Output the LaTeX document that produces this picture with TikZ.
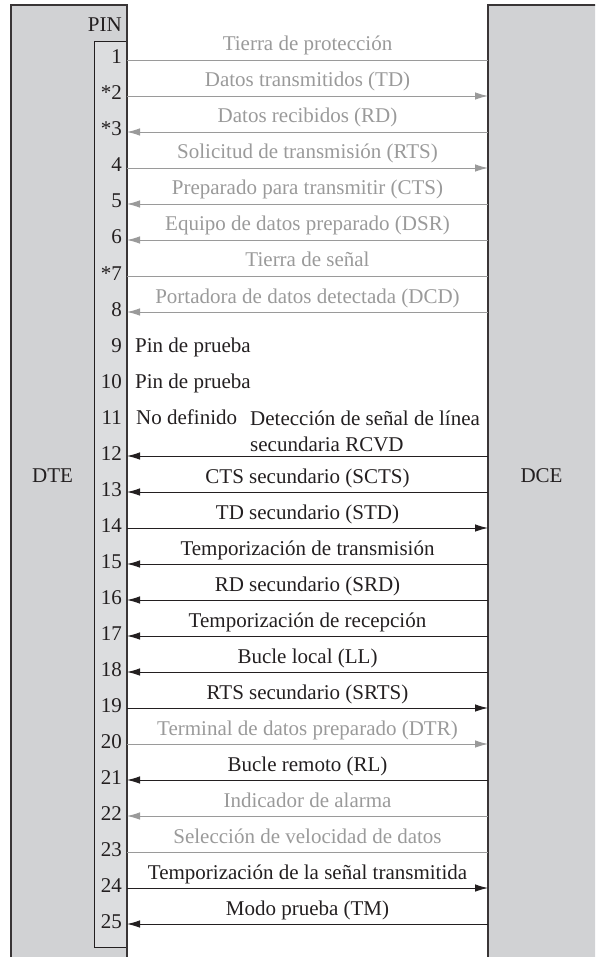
\documentclass[tikz,border=0pt]{standalone}
\usepackage{fontspec}
\setmainfont{Liberation Serif}
\usetikzlibrary{arrows.meta}
\definecolor{boxgray}{HTML}{D1D2D4}
\definecolor{pingray}{HTML}{DCDDDF}
\definecolor{siggray}{HTML}{9A9A9A}
\definecolor{ink}{HTML}{231F20}
\tikzset{
  unit/.style={font=\fontsize{21}{26}\selectfont, text=ink, inner sep=0pt},
  boxline/.style={draw=ink!90, line width=2pt},
  sigline/.style={line width=0.9pt},
  to dce/.style={-{Latex[length=13pt,width=7.5pt]}},
  to dte/.style={{Latex[length=13pt,width=7.5pt]}-},
  no tip/.style={},
}
\begin{document}
\begin{tikzpicture}[x=1pt,y=-1pt]
  \useasboundingbox (0,0) rectangle (595,957);
  \clip (0,0) rectangle (595,957);
  % DTE
  \fill[boxgray] (11,5) rectangle (127,970);
  \filldraw[fill=pingray, draw=ink, line width=1pt] (94,42) rectangle (127,947);
  \draw[boxline] (11,970) -- (11,5) -- (127,5) -- (127,970);
  \node[unit, anchor=base] (dte) at (52.5,482) {DTE};
  \node[unit, anchor=base east] (pinhead) at (122,32) {PIN};
  % DCE
  \fill[boxgray] (488,5) rectangle (600,970);
  \draw[boxline] (600,5) -- (488,5) -- (488,970);
  \node[unit, anchor=base] (dce) at (541.5,482) {DCE};
  % pin numbers
  \foreach \t [count=\i] in {1,*2,*3,4,5,6,*7,8,9,10,11,12,13,14,15,16,17,18,19,20,21,22,23,24,25}
    \node[unit, anchor=base east] (pin-\i) at (122,{28+36*\i}) {\t};
  % pins without a line
  \node[unit, anchor=base west] (test-9) at (135,352) {Pin de prueba};
  \node[unit, anchor=base west] (test-10) at (135,388) {Pin de prueba};
  \node[unit, anchor=base west] (undef-11) at (136,424) {No definido};
  % signals
  \foreach \i/\lab/\col/\tip in {
      1/Tierra de protección/siggray/no tip,
      2/Datos transmitidos (TD)/siggray/to dce,
      3/Datos recibidos (RD)/siggray/to dte,
      4/Solicitud de transmisión (RTS)/siggray/to dce,
      5/Preparado para transmitir (CTS)/siggray/to dte,
      6/Equipo de datos preparado (DSR)/siggray/to dte,
      7/Tierra de señal/siggray/no tip,
      8/Portadora de datos detectada (DCD)/siggray/to dte,
      12//ink/to dte,
      13/CTS secundario (SCTS)/ink/to dte,
      14/TD secundario (STD)/ink/to dce,
      15/Temporización de transmisión/ink/to dte,
      16/RD secundario (SRD)/ink/to dte,
      17/Temporización de recepción/ink/to dte,
      18/Bucle local (LL)/ink/to dte,
      19/RTS secundario (SRTS)/ink/to dce,
      20/Terminal de datos preparado (DTR)/siggray/to dce,
      21/Bucle remoto (RL)/ink/to dte,
      22/Indicador de alarma/siggray/to dte,
      23/Selección de velocidad de datos/siggray/no tip,
      24/Temporización de la señal transmitida/ink/to dce,
      25/Modo prueba (TM)/ink/to dte}
  {
    \coordinate (dte-\i) at (127,{24+36*\i});
    \coordinate (dce-\i) at (488,{24+36*\i});
    \draw[sigline, draw=\col, \tip] (dte-\i) -- (dce-\i);
    \node[unit, text=\col, anchor=base] (lab-\i) at (307.5,{15+36*\i}) {\lab};
  }
  \node[unit, align=left, anchor=base west] (rcvd) at (250,451)
    {Detección de señal de línea\\secundaria RCVD};
\end{tikzpicture}
\end{document}
